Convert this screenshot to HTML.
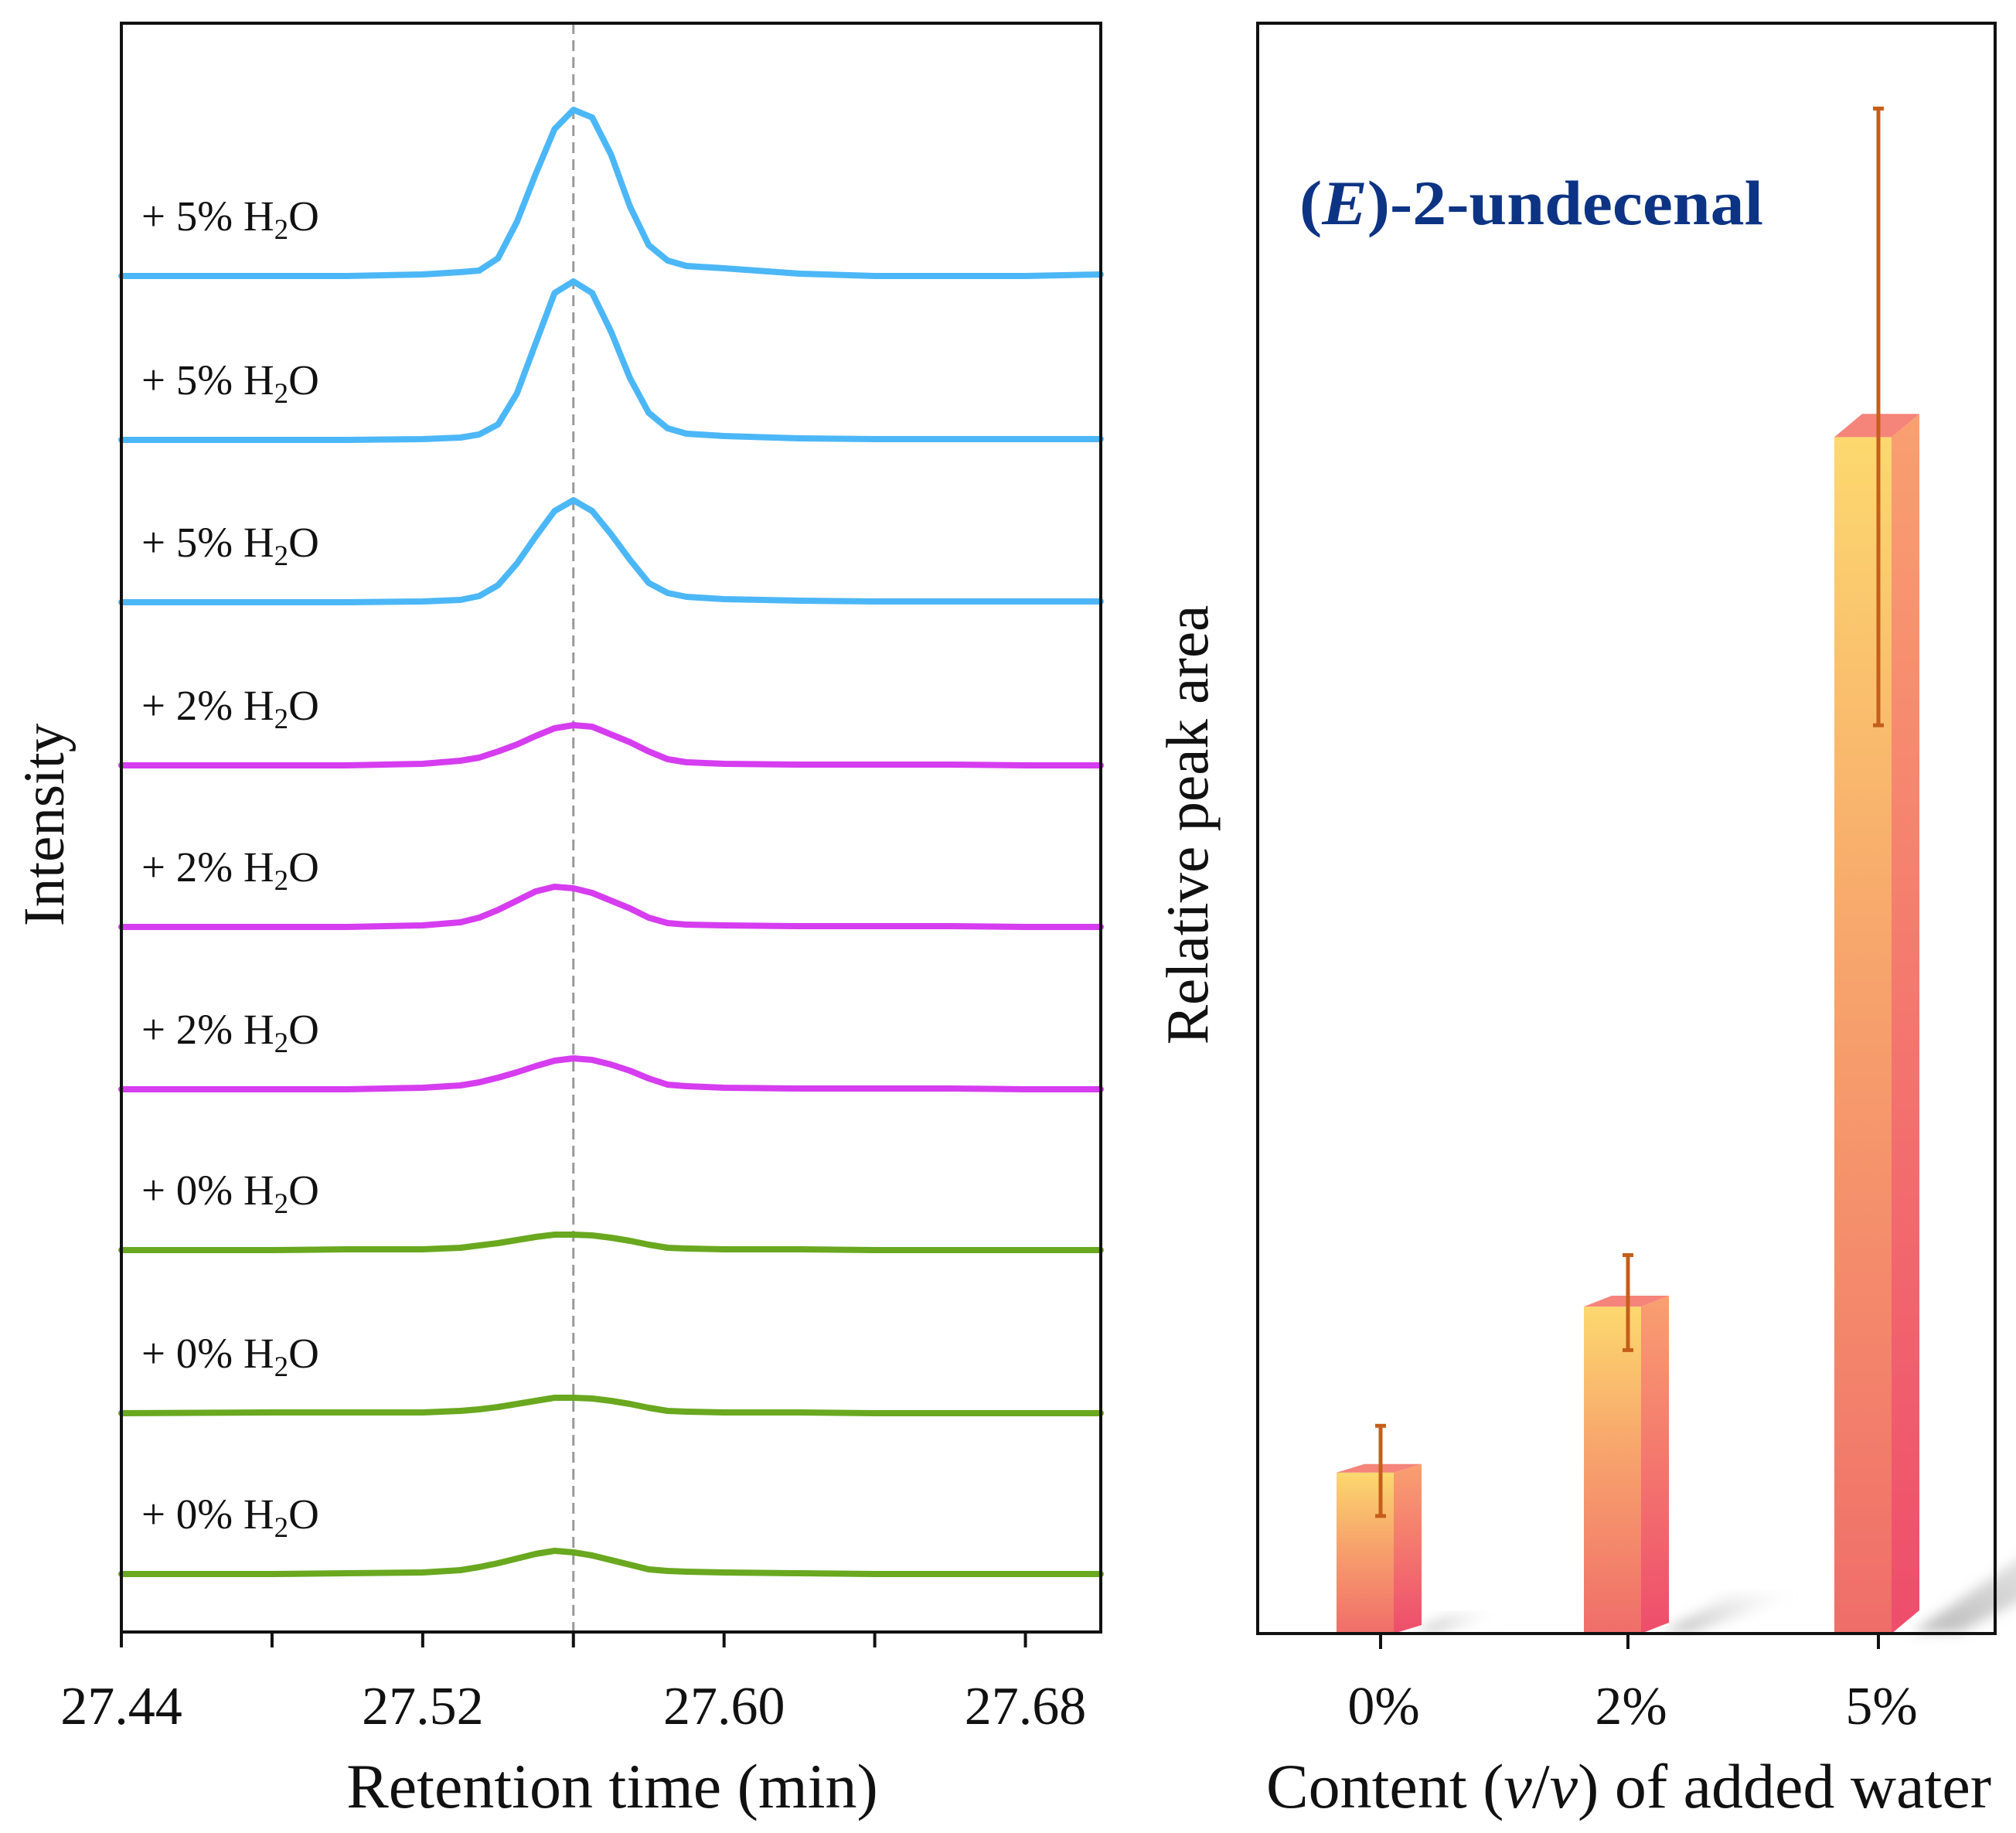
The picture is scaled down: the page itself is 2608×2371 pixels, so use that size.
<!DOCTYPE html>
<html><head><meta charset="utf-8">
<style>
html,body{margin:0;padding:0;background:#fff;}
svg{display:block;font-family:"Liberation Serif",serif;}
</style></head>
<body>
<svg id="fig" width="2608" height="2371" viewBox="0 0 2608 2371" xmlns="http://www.w3.org/2000/svg">
<defs>
<linearGradient id="gFront" x1="0" y1="0" x2="0" y2="1"><stop offset="0" stop-color="#fcd86e"/><stop offset="0.45" stop-color="#f7a36c"/><stop offset="1" stop-color="#f06d6a"/></linearGradient>
<linearGradient id="gSide" x1="0" y1="0" x2="0" y2="1"><stop offset="0" stop-color="#f9a070"/><stop offset="1" stop-color="#ee4d6c"/></linearGradient>
<linearGradient id="gShadow" x1="0" y1="1" x2="1" y2="0"><stop offset="0" stop-color="#b5b5b5" stop-opacity="0.95"/><stop offset="1" stop-color="#e0e0e0" stop-opacity="0"/></linearGradient>
<filter id="blur"><feGaussianBlur stdDeviation="8"/></filter>
</defs>
<g id="left"></g>
<g id="right"></g>
</svg>
<script>
// ---------- chromatogram data ----------
const rt = [27.44,27.48,27.50,27.52,27.53,27.535,27.54,27.545,27.55,27.555,27.56,27.565,27.57,27.575,27.58,27.585,27.59,27.60,27.62,27.64,27.66,27.68,27.70];
const traceLabels = ["+ 5% H","+ 5% H","+ 5% H","+ 2% H","+ 2% H","+ 2% H","+ 0% H","+ 0% H","+ 0% H"];
const traceOffsets = [1754,1542,1332,1121,912,702,494,283,75];
const trace1 = [0,0,0,2,5,7,23,70,132,190,215,205,157,90,40,20,13,10,3,0,0,0,2];
const trace2 = [0,0,0,1,3,7,20,60,125,190,205,190,140,80,35,15,8,5,2,1,1,1,1];
const trace3 = [0,0,0,1,3,8,22,50,85,118,132,118,88,55,25,12,7,4,2,1,1,1,1];
const trace4 = [0,0,0,2,6,10,18,27,38,48,52,50,40,30,18,8,4,2,1,1,1,0,0];
const trace5 = [0,0,0,2,6,12,22,34,46,52,50,44,34,24,12,5,3,2,1,1,1,0,0];
const trace6 = [0,0,0,2,5,9,15,22,30,37,40,38,32,24,14,6,4,2,1,1,1,0,0];
const trace7 = [0,0,1,1,3,6,9,13,17,20,20,19,16,12,7,3,2,1,1,0,0,0,0];
const trace8 = [0,1,1,1,3,5,8,12,16,20,20,19,16,12,7,3,2,1,1,0,0,0,0];
const trace9 = [0,0,1,2,5,9,14,20,26,30,28,24,18,12,6,4,3,2,1,0,0,0,0];
const traces = [trace1,trace2,trace3,trace4,trace5,trace6,trace7,trace8,trace9];
const traceColors = ["#4cb7f7","#4cb7f7","#4cb7f7","#d63cf0","#d63cf0","#d63cf0","#69a81f","#69a81f","#69a81f"];
const xTicks = [27.44,27.48,27.52,27.56,27.60,27.64,27.68];
const xTickLabels = ["27.44","","27.52","","27.60","","27.68"];
const refRT = 27.56;

// ---------- bar data ----------
const barCats = ["0%","2%","5%"];
const barVals = [1.0,2.03,7.43];
const errUp = [0.29,0.32,2.04];
const errDown = [0.27,0.27,1.79];

const NS="http://www.w3.org/2000/svg";
function mk(tag,attrs,parent){const e=document.createElementNS(NS,tag);for(const k in attrs)e.setAttribute(k,attrs[k]);parent.appendChild(e);return e;}

// ---------- left panel ----------
const L=document.getElementById('left');
const lx0=157,lx1=1424,ly0=30,ly1=2111, rtMin=27.44, rtMax=27.70;
const xs = v => lx0+(v-rtMin)/(rtMax-rtMin)*(lx1-lx0);
const ys = (v,off) => ly1-off-v;

let ref=mk('line',{x1:xs(refRT),x2:xs(refRT),y1:ly0,y2:ly1,stroke:'#999','stroke-width':3,'stroke-dasharray':'14 8'},L);



traces.forEach((tr,i)=>{
  const d=tr.map((v,j)=>(j?'L':'M')+xs(rt[j]).toFixed(1)+','+ys(v,traceOffsets[i]).toFixed(1)).join(' ');
  const p=mk('path',{d:d,fill:'none',stroke:traceColors[i],'stroke-width':8,'stroke-linejoin':'round','stroke-linecap':'round'},L);
  
  
  const t=mk('text',{x:183,y:ys(0,traceOffsets[i])-59,'font-size':55,fill:'#111'},L);
  
  
  t.textContent=traceLabels[i];
  const sub=document.createElementNS(NS,'tspan');sub.setAttribute('font-size',37);sub.setAttribute('dy',11);sub.textContent='2';t.appendChild(sub);
  const o=document.createElementNS(NS,'tspan');o.setAttribute('dy',-11);o.textContent='O';t.appendChild(o);
});
let fr=mk('rect',{x:lx0,y:ly0,width:lx1-lx0,height:ly1-ly0,fill:'none',stroke:'#111','stroke-width':4},L);


xTicks.forEach((v,i)=>{
  const tk=mk('line',{x1:xs(v),x2:xs(v),y1:ly1,y2:ly1+20,stroke:'#111','stroke-width':4},L);
  
  
  if(xTickLabels[i]){
    const t=mk('text',{x:xs(v),y:2230,'font-size':70,'text-anchor':'middle',fill:'#111'},L);
    
    
    t.textContent=xTickLabels[i];
  }
});
let xt=mk('text',{x:792,y:2338,'font-size':82,'text-anchor':'middle',fill:'#111'},L);


xt.textContent='Retention time (min)';
let yt=mk('text',{x:0,y:0,'font-size':75,'text-anchor':'middle',fill:'#111',transform:'translate(82,1067) rotate(-90)'},L);


yt.textContent='Intensity';

// ---------- right panel ----------
const R=document.getElementById('right');
const rx0=1627,rx1=2581,ry0=30,ry1=2113,yMax=10;
const bx=[1786,2106,2430];
const yb = v => ry1-v/yMax*(ry1-ry0);

barVals.forEach((v,i)=>{
  const cx=bx[i], top=yb(v), dep=Math.min(30,8+v*3);
  const g=mk('g',{},R);
  
  
  const sw=Math.min(150,50+v*20), sl=Math.min(260,v*45), sh2=Math.min(180,v*25);
  const sh=mk('polygon',{points:`${cx+45},${ry1-2} ${cx+45+sl},${ry1-2-sh2} ${cx+45+sl+sw},${ry1-2-sh2} ${cx+45+sw*0.4},${ry1-2}`,fill:'url(#gShadow)',filter:'url(#blur)'},g);
  
  
  const fr2=mk('rect',{x:cx-57,y:top,width:74,height:ry1-top,fill:'url(#gFront)'},g);
  
  
  const sd=mk('polygon',{points:`${cx+17},${top} ${cx+53},${top-dep} ${cx+53},${ry1-dep} ${cx+17},${ry1}`,fill:'url(#gSide)'},g);
  
  
  const tp=mk('polygon',{points:`${cx-57},${top} ${cx+17},${top} ${cx+53},${top-dep} ${cx-21},${top-dep}`,fill:'#f5847a'},g);
  
  
  const e=mk('g',{stroke:'#c65e1b','stroke-width':5},R);
  
  
  const eh=yb(v+errUp[i]), el=yb(v-errDown[i]);
  mk('line',{x1:cx,x2:cx,y1:eh,y2:el},e);
  mk('line',{x1:cx-7,x2:cx+7,y1:eh,y2:eh},e);
  mk('line',{x1:cx-7,x2:cx+7,y1:el,y2:el},e);
  const tk=mk('line',{x1:cx,x2:cx,y1:ry1,y2:ry1+20,stroke:'#111','stroke-width':4},R);
  
  
  const t=mk('text',{x:cx+4,y:2230,'font-size':70,'text-anchor':'middle',fill:'#111'},R);
  
  
  t.textContent=barCats[i];
});
let fr3=mk('rect',{x:rx0,y:ry0,width:rx1-rx0,height:ry1-ry0,fill:'none',stroke:'#111','stroke-width':4},R);


let ttl=mk('text',{x:1681,y:290,'font-size':82,'font-weight':'bold',fill:'#0d3384',textLength:600,lengthAdjust:'spacingAndGlyphs'},R);


ttl.innerHTML='(<tspan font-style="italic">E</tspan>)-2-undecenal';
let xt2=mk('text',{x:2107,y:2338,'font-size':82,'text-anchor':'middle',fill:'#111'},R);


xt2.innerHTML='Content (<tspan font-style="italic">v</tspan>/<tspan font-style="italic">v</tspan>) of added water';
let yt2=mk('text',{x:0,y:0,'font-size':77,'text-anchor':'middle',fill:'#111',transform:'translate(1562,1067) rotate(-90)'},R);


yt2.textContent='Relative peak area';
</script>
</body></html>
